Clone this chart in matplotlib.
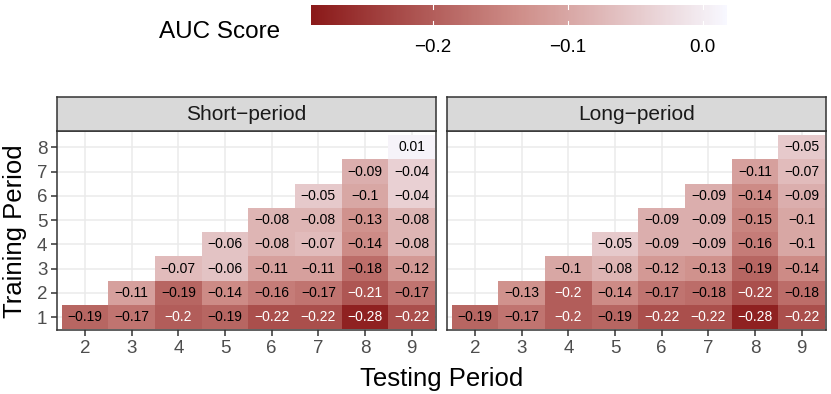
import numpy as np
import matplotlib
matplotlib.use("Agg")
import matplotlib.pyplot as plt
from matplotlib.colors import LinearSegmentedColormap, Normalize
from matplotlib.patches import Rectangle

plt.rcParams['font.family'] = ['Liberation Sans', 'DejaVu Sans']

# ---------- data: AUC score by training / testing period ----------
panels = ['Short\u2212period', 'Long\u2212period']
test_periods = [2, 3, 4, 5, 6, 7, 8, 9]
train_periods = [1, 2, 3, 4, 5, 6, 7, 8]

# row = training period (1..8), values for testing periods train+1 .. 9
short_vals = [
    [-0.19, -0.17, -0.2, -0.19, -0.22, -0.22, -0.28, -0.22],
    [-0.11, -0.19, -0.14, -0.16, -0.17, -0.21, -0.17],
    [-0.07, -0.06, -0.11, -0.11, -0.18, -0.12],
    [-0.06, -0.08, -0.07, -0.14, -0.08],
    [-0.08, -0.08, -0.13, -0.08],
    [-0.05, -0.1, -0.04],
    [-0.09, -0.04],
    [0.01],
]
long_vals = [
    [-0.19, -0.17, -0.2, -0.19, -0.22, -0.22, -0.28, -0.22],
    [-0.13, -0.2, -0.14, -0.17, -0.18, -0.22, -0.18],
    [-0.1, -0.08, -0.12, -0.13, -0.19, -0.14],
    [-0.05, -0.09, -0.09, -0.16, -0.1],
    [-0.09, -0.09, -0.15, -0.1],
    [-0.09, -0.14, -0.09],
    [-0.11, -0.07],
    [-0.05],
]
cbar_ticks = [-0.2, -0.1, 0.0]

# ---------- style ----------
W, H = 831, 394
cmap = LinearSegmentedColormap.from_list('auc', ['#8B1A1A', '#cf8e89', '#F8F8FF'])
norm = Normalize(vmin=-0.29, vmax=0.018)
border = '#333333'
grid_col = '#ebebeb'
tick_col = '#4d4d4d'


def px_axes(fig, x0, y0, x1, y1):
    # pixel box (top-left origin) -> figure axes
    return fig.add_axes([x0 / W, 1 - y1 / H, (x1 - x0) / W, (y1 - y0) / H])


fig = plt.figure(figsize=(W / 100, H / 100), dpi=100)

panel_x = [(57, 436), (447, 826)]
for k, (name, vals) in enumerate(zip(panels, [short_vals, long_vals])):
    x0, x1 = panel_x[k]
    ax = px_axes(fig, x0, 131, x1, 330)
    ax.set_xlim(1.4, 9.52)
    ax.set_ylim(0.47, 8.67)
    ax.set_xticks(test_periods)
    ax.set_yticks(train_periods)
    ax.grid(True, color=grid_col, linewidth=1.1)
    ax.set_axisbelow(True)

    for i, row in enumerate(vals):
        tr = train_periods[i]
        for j, v in enumerate(row):
            te = tr + 1 + j
            ax.add_patch(Rectangle((te - 0.5, tr - 0.5), 1, 1,
                                   facecolor=cmap(norm(v)), edgecolor='none', zorder=2))
            lab = f'{v:g}'.replace('-', '\u2212')
            ax.text(te, tr, lab, ha='center', va='center', fontsize=10,
                    color='white' if v <= -0.2 else 'black', zorder=3)

    for s in ax.spines.values():
        s.set_color(border)
        s.set_linewidth(1.1)
        s.set_zorder(4)
    ax.tick_params(axis='both', colors=border, labelcolor=tick_col,
                   labelsize=13.5, length=4, width=1.1, pad=3)
    if k == 1:
        ax.set_yticklabels([])
        ax.tick_params(axis='y', length=0)

    # strip
    sax = px_axes(fig, x0, 97, x1, 131)
    sax.set_facecolor('#d9d9d9')
    sax.set_xticks([])
    sax.set_yticks([])
    for s in sax.spines.values():
        s.set_color(border)
        s.set_linewidth(1.1)
    sax.text(0.5, 0.5, name, ha='center', va='center', fontsize=15,
             color='#1a1a1a', transform=sax.transAxes)

fig.text((57 + 826) / 2 / W, 1 - 379 / H, 'Testing Period', ha='center', va='center', fontsize=18.5)
fig.text(15 / W, 1 - 231 / H, 'Training Period', ha='center', va='center',
         fontsize=18.5, rotation=90)

# ---------- colour bar legend ----------
cax = px_axes(fig, 311, 5, 727, 25)
grad = np.linspace(norm.vmin, norm.vmax, 300).reshape(1, -1)
cax.imshow(grad, aspect='auto', cmap=cmap, norm=norm,
           extent=[norm.vmin, norm.vmax, 0, 1])
cax.set_xlim(norm.vmin, norm.vmax)
cax.set_ylim(0, 1)
for t in cbar_ticks:
    cax.plot([t, t], [0, 0.2], color='white', linewidth=0.8)
    cax.plot([t, t], [0.8, 1], color='white', linewidth=0.8)
cax.set_yticks([])
cax.set_xticks(cbar_ticks)
cax.set_xticklabels([f'{t:.1f}'.replace('-', '\u2212') for t in cbar_ticks])
cax.tick_params(axis='x', length=0, labelsize=13.5, pad=10, labelcolor='black')
for s in cax.spines.values():
    s.set_visible(False)
fig.text(220 / W, 1 - 32 / H, 'AUC Score', ha='center', va='center', fontsize=17.5)

fig.savefig('out.png', dpi=100)
